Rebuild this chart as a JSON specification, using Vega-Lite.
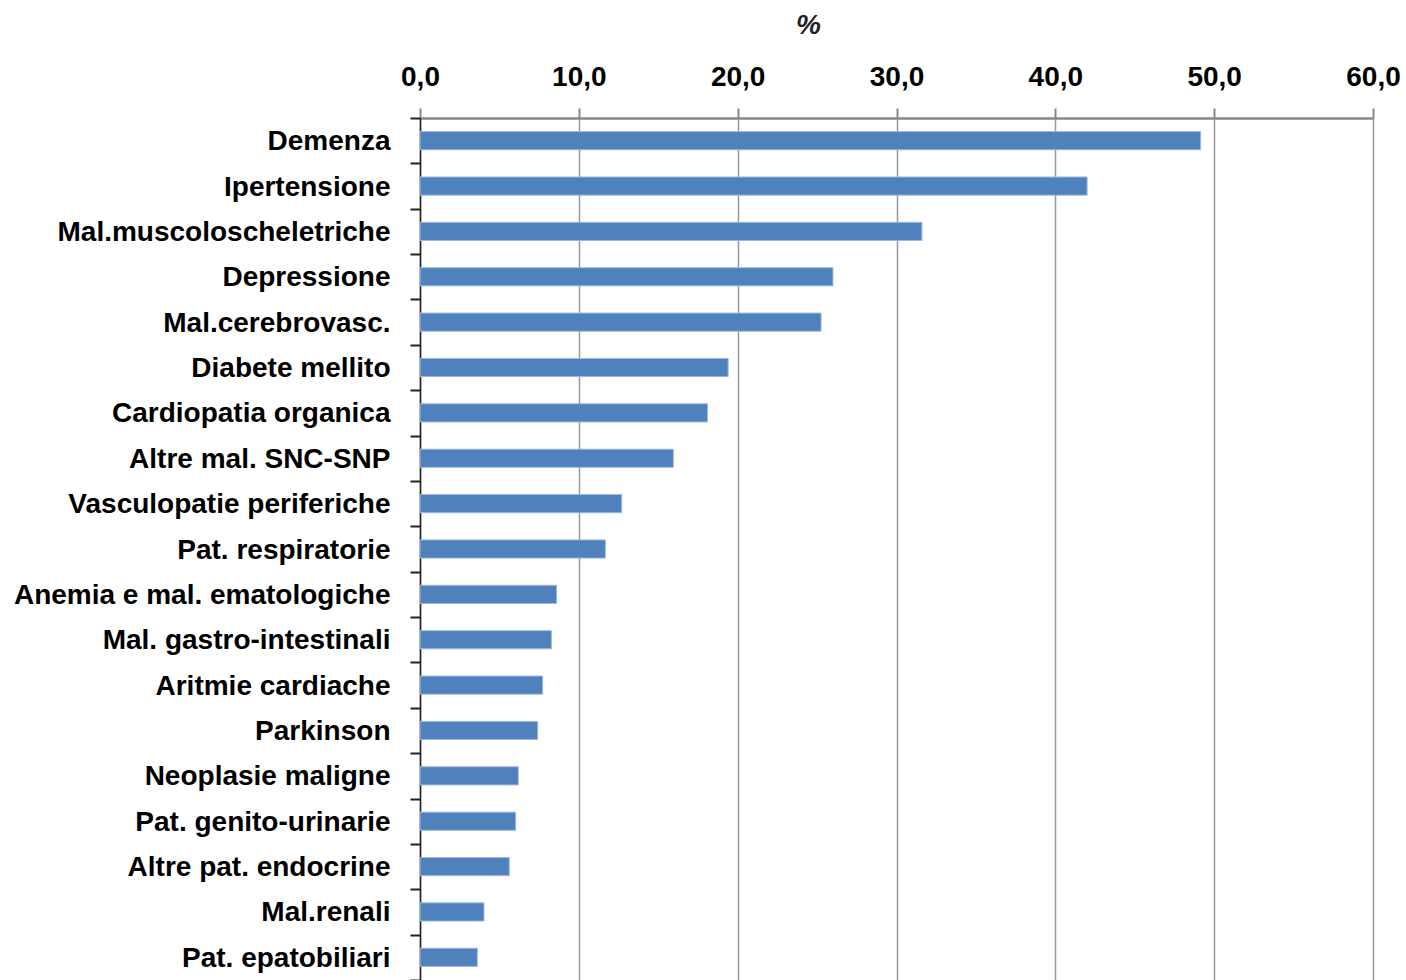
{
  "$schema": "https://vega.github.io/schema/vega-lite/v6.json",
  "width": 953,
  "height": 862,
  "autosize": {"type": "none"},
  "padding": {"left": 420, "top": 118, "right": 33, "bottom": 0},
  "background": "white",
  "data": {
    "values": [
      {"patologia": "Demenza", "perc": 49.15},
      {"patologia": "Ipertensione", "perc": 42.0},
      {"patologia": "Mal.muscoloscheletriche", "perc": 31.6},
      {"patologia": "Depressione", "perc": 26.0},
      {"patologia": "Mal.cerebrovasc.", "perc": 25.25},
      {"patologia": "Diabete mellito", "perc": 19.4},
      {"patologia": "Cardiopatia organica", "perc": 18.1},
      {"patologia": "Altre mal. SNC-SNP", "perc": 15.95},
      {"patologia": "Vasculopatie periferiche", "perc": 12.7},
      {"patologia": "Pat. respiratorie", "perc": 11.67},
      {"patologia": "Anemia e mal. ematologiche", "perc": 8.6},
      {"patologia": "Mal. gastro-intestinali", "perc": 8.27},
      {"patologia": "Aritmie cardiache", "perc": 7.72},
      {"patologia": "Parkinson", "perc": 7.41},
      {"patologia": "Neoplasie maligne", "perc": 6.19},
      {"patologia": "Pat. genito-urinarie", "perc": 6.02},
      {"patologia": "Altre pat. endocrine", "perc": 5.62},
      {"patologia": "Mal.renali", "perc": 4.03},
      {"patologia": "Pat. epatobiliari", "perc": 3.61}
    ]
  },
  "mark": {"type": "bar", "color": "#4F81BD", "height": {"band": 0.4}, "stroke": "#9DB9DD", "strokeWidth": 1},
  "encoding": {
    "y": {
      "field": "patologia",
      "type": "nominal",
      "sort": null,
      "scale": {"paddingInner": 0, "paddingOuter": 0},
      "axis": {
        "title": null,
        "domainColor": "#222222",
        "domainWidth": 1.5,
        "tickBand": "extent",
        "tickColor": "#222222",
        "tickWidth": 2,
        "tickSize": 10,
        "labelFont": "Liberation Sans",
        "labelFontWeight": "bold",
        "labelFontSize": 28,
        "labelColor": "black",
        "labelPadding": 20,
        "labelLimit": 500,
        "labelOffset": 1,
        "grid": false
      }
    },
    "x": {
      "field": "perc",
      "type": "quantitative",
      "scale": {"domain": [0, 60], "nice": false},
      "axis": {
        "orient": "top",
        "values": [0, 10, 20, 30, 40, 50, 60],
        "labelExpr": "replace(format(datum.value, '.1f'), '.', ',')",
        "title": "%",
        "titleX": 388,
        "titleY": -85,
        "titleAlign": "center",
        "titleBaseline": "alphabetic",
        "titleFont": "Liberation Sans",
        "titleFontSize": 28,
        "titleFontWeight": "bold",
        "titleFontStyle": "italic",
        "titleColor": "#222222",
        "domainColor": "#888888",
        "domainWidth": 2.5,
        "tickColor": "#888888",
        "tickWidth": 2,
        "tickSize": 10,
        "grid": true,
        "gridColor": "#999999",
        "gridWidth": 1.5,
        "labelFont": "Liberation Sans",
        "labelFontWeight": "bold",
        "labelFontSize": 28,
        "labelColor": "black",
        "labelPadding": 17,
        "labelFlush": false
      }
    }
  },
  "config": {"view": {"stroke": null, "fill": "white"}}
}
